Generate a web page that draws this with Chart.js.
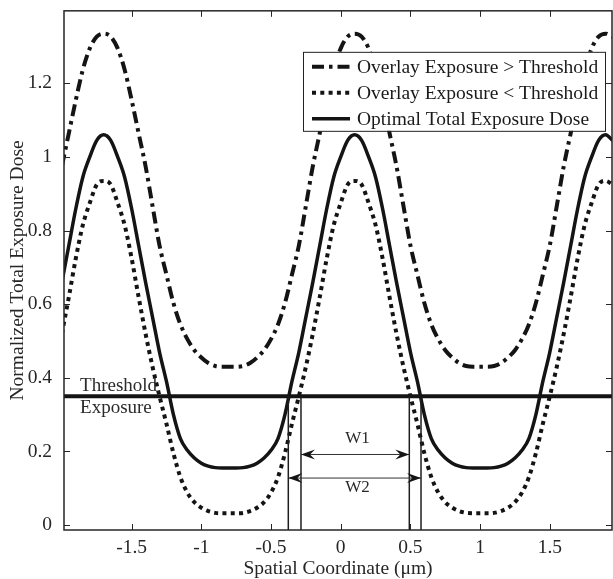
<!DOCTYPE html>
<html>
<head>
<meta charset="utf-8">
<script src="https://cdn.jsdelivr.net/npm/chart.js@4.4.1/dist/chart.umd.min.js"></script>
<style>
  html, body { margin: 0; padding: 0; background: #fff; }
  #wrap { width: 613px; height: 579px; }
</style>
</head>
<body>
<div id="wrap"><canvas id="myChart"></canvas></div>
<script>
// spatial coordinate (um)
var xs = [
  -2, -1.95, -1.9, -1.85, -1.8, -1.75, -1.7, -1.65, -1.6, -1.55,
  -1.5, -1.45, -1.4, -1.35, -1.3, -1.25, -1.2, -1.15, -1.1, -1.05,
  -1, -0.95, -0.9, -0.85, -0.8, -0.75, -0.7, -0.65, -0.6, -0.55,
  -0.5, -0.45, -0.4, -0.35, -0.3, -0.25, -0.2, -0.15, -0.1, -0.05,
  0, 0.05, 0.1, 0.15, 0.2, 0.25, 0.3, 0.35, 0.4, 0.45,
  0.5, 0.55, 0.6, 0.65, 0.7, 0.75, 0.8, 0.85, 0.9, 0.95,
  1, 1.05, 1.1, 1.15, 1.2, 1.25, 1.3, 1.35, 1.4, 1.45,
  1.5, 1.55, 1.6, 1.65, 1.7, 1.75, 1.8, 1.85, 1.9, 1.95
];
var overAbove = [
  0.975, 1.065, 1.155, 1.237, 1.295, 1.327, 1.335, 1.327, 1.295, 1.237,
  1.155, 1.065, 0.975, 0.867, 0.76, 0.68, 0.603, 0.545, 0.505, 0.475,
  0.455, 0.44, 0.432, 0.43, 0.43, 0.43, 0.432, 0.44, 0.455, 0.475,
  0.505, 0.545, 0.603, 0.68, 0.76, 0.867, 0.975, 1.065, 1.155, 1.237,
  1.295, 1.327, 1.335, 1.327, 1.295, 1.237, 1.155, 1.065, 0.975, 0.867,
  0.76, 0.68, 0.603, 0.545, 0.505, 0.475, 0.455, 0.44, 0.432, 0.43,
  0.43, 0.43, 0.432, 0.44, 0.455, 0.475, 0.505, 0.545, 0.603, 0.68,
  0.76, 0.867, 0.975, 1.065, 1.155, 1.237, 1.295, 1.327, 1.335, 1.327
];
var overBelow = [
  0.52, 0.62, 0.725, 0.815, 0.875, 0.925, 0.935, 0.925, 0.875, 0.815,
  0.725, 0.62, 0.52, 0.43, 0.35, 0.275, 0.195, 0.13, 0.088, 0.062,
  0.047, 0.038, 0.033, 0.032, 0.032, 0.032, 0.033, 0.038, 0.047, 0.062,
  0.088, 0.13, 0.195, 0.275, 0.35, 0.43, 0.52, 0.62, 0.725, 0.815,
  0.875, 0.925, 0.935, 0.925, 0.875, 0.815, 0.725, 0.62, 0.52, 0.43,
  0.35, 0.275, 0.195, 0.13, 0.088, 0.062, 0.047, 0.038, 0.033, 0.032,
  0.032, 0.032, 0.033, 0.038, 0.047, 0.062, 0.088, 0.13, 0.195, 0.275,
  0.35, 0.43, 0.52, 0.62, 0.725, 0.815, 0.875, 0.925, 0.935, 0.925
];
var optimal = [
  0.66, 0.76, 0.86, 0.945, 1.0, 1.045, 1.06, 1.045, 1.0, 0.945,
  0.86, 0.76, 0.66, 0.565, 0.47, 0.39, 0.30, 0.235, 0.203, 0.182,
  0.168, 0.16, 0.156, 0.155, 0.155, 0.155, 0.156, 0.16, 0.168, 0.182,
  0.203, 0.235, 0.30, 0.39, 0.47, 0.565, 0.66, 0.76, 0.86, 0.945,
  1.0, 1.045, 1.06, 1.045, 1.0, 0.945, 0.86, 0.76, 0.66, 0.565,
  0.47, 0.39, 0.30, 0.235, 0.203, 0.182, 0.168, 0.16, 0.156, 0.155,
  0.155, 0.155, 0.156, 0.16, 0.168, 0.182, 0.203, 0.235, 0.30, 0.39,
  0.47, 0.565, 0.66, 0.76, 0.86, 0.945, 1.0, 1.045, 1.06, 1.045
];
var threshold = 0.35;
var seriesNames = ['Overlay Exposure > Threshold', 'Overlay Exposure < Threshold', 'Optimal Total Exposure Dose'];

var xTicks = [-1.5, -1, -0.5, 0, 0.5, 1, 1.5];
var xTickLabels = ['-1.5', '-1', '-0.5', '0', '0.5', '1', '1.5'];
var yTicks = [0, 0.2, 0.4, 0.6, 0.8, 1, 1.2];
var yTickLabels = ['0', '0.2', '0.4', '0.6', '0.8', '1', '1.2'];
var xRange = [-1.985, 1.946];
var yRange = [-0.0135, 1.397];

// widths marked below the threshold line
var w1Edges = [-0.285, 0.492];
var w2Edges = [-0.376, 0.576];
var w1Level = 0.193;
var w2Level = 0.129;

var serif = "'Liberation Serif', 'Times New Roman', serif";
var ink = '#141414';
Chart.defaults.font.family = serif;

function pts(ys) {
  return xs.map(function (x, i) { return { x: x, y: ys[i] }; });
}

function arrowHead(ctx, tipX, y, dir) {
  // dir = -1 points left, +1 points right
  ctx.beginPath();
  ctx.moveTo(tipX, y);
  ctx.lineTo(tipX - dir * 14, y - 5);
  ctx.lineTo(tipX - dir * 9, y);
  ctx.lineTo(tipX - dir * 14, y + 5);
  ctx.closePath();
  ctx.fill();
}

function dimArrow(ctx, x1, x2, y) {
  ctx.strokeStyle = '#333';
  ctx.lineWidth = 1;
  ctx.beginPath();
  ctx.moveTo(x1, y + 0.5);
  ctx.lineTo(x2, y + 0.5);
  ctx.stroke();
  ctx.fillStyle = ink;
  arrowHead(ctx, x1, y + 0.5, -1);
  arrowHead(ctx, x2, y + 0.5, 1);
}

var frame = {
  id: 'frame',
  afterDatasetsDraw: function (chart) {
    var ctx = chart.ctx, a = chart.chartArea;
    var x = chart.scales.x, y = chart.scales.y;
    ctx.save();

    // vertical width markers
    ctx.strokeStyle = '#1e1e1e';
    ctx.lineWidth = 1.5;
    w1Edges.concat(w2Edges).forEach(function (v) {
      var px = x.getPixelForValue(v);
      ctx.beginPath();
      ctx.moveTo(px, y.getPixelForValue(threshold));
      ctx.lineTo(px, a.bottom);
      ctx.stroke();
    });
    dimArrow(ctx, x.getPixelForValue(w1Edges[0]), x.getPixelForValue(w1Edges[1]), y.getPixelForValue(w1Level));
    dimArrow(ctx, x.getPixelForValue(w2Edges[0]), x.getPixelForValue(w2Edges[1]), y.getPixelForValue(w2Level));

    ctx.fillStyle = '#2a2a2a';
    ctx.textBaseline = 'middle';
    ctx.textAlign = 'center';
    ctx.font = '17px ' + serif;
    ctx.fillText('W1', x.getPixelForValue(0.12), y.getPixelForValue(0.234));
    ctx.fillText('W2', x.getPixelForValue(0.12), y.getPixelForValue(0.103));

    ctx.textAlign = 'left';
    ctx.font = '19px ' + serif;
    ctx.fillText('Threshold', x.getPixelForValue(-1.87), y.getPixelForValue(0.378));
    ctx.fillText('Exposure', x.getPixelForValue(-1.87), y.getPixelForValue(0.319));

    // axes box and inward ticks
    ctx.strokeStyle = '#262626';
    ctx.lineWidth = 1.5;
    ctx.strokeRect(a.left, a.top, a.right - a.left, a.bottom - a.top);
    ctx.lineWidth = 1;
    ctx.beginPath();
    xTicks.forEach(function (v) {
      var px = Math.round(x.getPixelForValue(v)) + 0.5;
      ctx.moveTo(px, a.bottom); ctx.lineTo(px, a.bottom - 6);
      ctx.moveTo(px, a.top); ctx.lineTo(px, a.top + 6);
    });
    yTicks.forEach(function (v) {
      var py = Math.round(y.getPixelForValue(v)) + 0.5;
      ctx.moveTo(a.left, py); ctx.lineTo(a.left + 6, py);
      ctx.moveTo(a.right, py); ctx.lineTo(a.right - 6, py);
    });
    ctx.stroke();

    // legend box
    var lw = 302, lh = 79;
    var lx = a.right - 7 - lw, ly = a.top + 41;
    ctx.fillStyle = '#fff';
    ctx.fillRect(lx, ly, lw, lh);
    ctx.strokeStyle = '#222';
    ctx.lineWidth = 1;
    ctx.strokeRect(lx + 0.5, ly + 0.5, lw, lh);
    ctx.font = '19.5px ' + serif;
    ctx.textAlign = 'left';
    ctx.textBaseline = 'middle';
    for (var i = 0; i < 3; i++) {
      var ds = chart.data.datasets[i];
      var ry = ly + 15 + i * 26;
      ctx.strokeStyle = ds.borderColor;
      ctx.lineWidth = ds.borderWidth;
      ctx.lineCap = 'butt';
      ctx.setLineDash(ds.borderDash || []);
      ctx.beginPath();
      ctx.moveTo(lx + 9, ry);
      ctx.lineTo(lx + 47, ry);
      ctx.stroke();
      ctx.setLineDash([]);
      ctx.fillStyle = '#1a1a1a';
      ctx.fillText(ds.label, lx + 54, ry + 1);
    }
    ctx.restore();
  }
};

var ctx = document.getElementById('myChart');
var myChart = new Chart(ctx, {
  type: 'line',
  data: {
    datasets: [
      {
        label: seriesNames[0],
        data: pts(overAbove),
        borderColor: ink,
        borderWidth: 4,
        borderDash: [12, 5, 3.5, 5],
        borderCapStyle: 'butt'
      },
      {
        label: seriesNames[1],
        data: pts(overBelow),
        borderColor: ink,
        borderWidth: 4,
        borderDash: [4, 4.3],
        borderCapStyle: 'butt'
      },
      {
        label: seriesNames[2],
        data: pts(optimal),
        borderColor: ink,
        borderWidth: 3.5
      },
      {
        label: 'Threshold Exposure',
        data: [{ x: xRange[0], y: threshold }, { x: xRange[1], y: threshold }],
        borderColor: ink,
        borderWidth: 4
      }
    ]
  },
  options: {
    responsive: true,
    maintainAspectRatio: false,
    animation: false,
    devicePixelRatio: 1,
    layout: { padding: { top: 7, right: 1, left: 0, bottom: 0 } },
    elements: {
      point: { radius: 0, hoverRadius: 0 },
      line: { fill: false, cubicInterpolationMode: 'monotone' }
    },
    datasets: { line: { clip: 0 } },
    plugins: {
      legend: { display: false },
      tooltip: { enabled: false }
    },
    scales: {
      x: {
        type: 'linear',
        min: xRange[0],
        max: xRange[1],
        grid: { display: false },
        border: { display: false },
        afterBuildTicks: function (s) { s.ticks = xTicks.map(function (v) { return { value: v }; }); },
        afterFit: function (s) { s.height = 49; },
        ticks: {
          padding: 0,
          color: '#262626',
          font: { size: 19.5, lineHeight: 1 },
          maxRotation: 0,
          autoSkip: false,
          callback: function (v, i) { return xTickLabels[i]; }
        },
        title: {
          display: true,
          text: 'Spatial Coordinate (μm)',
          color: '#262626',
          font: { size: 19.5, lineHeight: 1 },
          padding: { top: 0, bottom: 0 }
        }
      },
      y: {
        type: 'linear',
        min: yRange[0],
        max: yRange[1],
        grid: { display: false },
        border: { display: false },
        afterBuildTicks: function (s) { s.ticks = yTicks.map(function (v) { return { value: v }; }); },
        afterFit: function (s) { s.width = 64; },
        ticks: {
          padding: 4,
          color: '#262626',
          font: { size: 19.5, lineHeight: 0.7 },
          autoSkip: false,
          callback: function (v, i) { return yTickLabels[i]; }
        },
        title: {
          display: true,
          text: 'Normalized Total Exposure Dose',
          color: '#262626',
          font: { size: 19.5 },
          padding: { top: 6, bottom: 0 }
        }
      }
    }
  },
  plugins: [frame]
});
</script>
</body>
</html>
